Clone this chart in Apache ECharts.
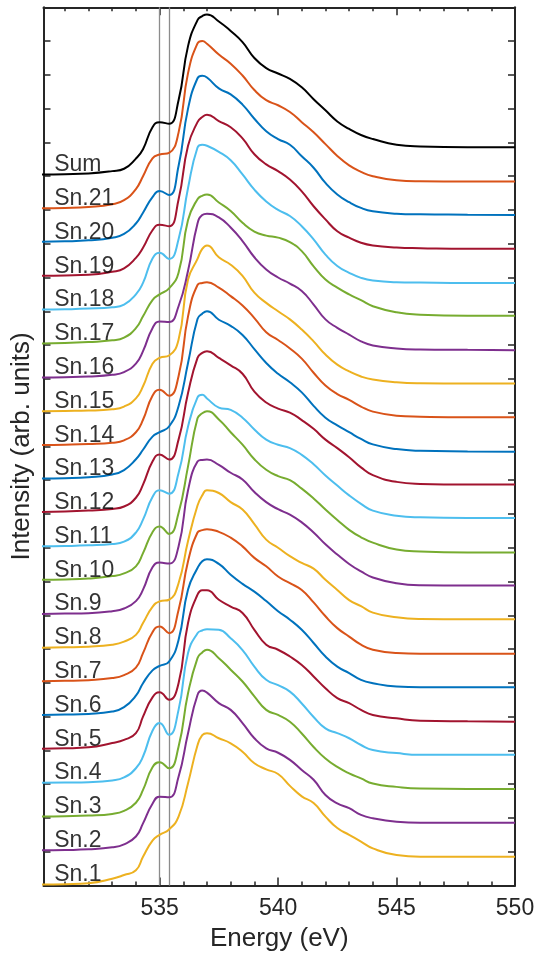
<!DOCTYPE html>
<html><head><meta charset="utf-8">
<script src="https://cdn.jsdelivr.net/npm/echarts@6/dist/echarts.min.js"></script>
<style>html,body{margin:0;padding:0;background:#fff}#c{width:537px;height:955px}</style>
</head><body><div id="c"></div>
<script>
// Energy grid (eV)
const energy = [530, 531, 532, 533, 533.5, 534, 534.3, 534.7, 535, 535.4,
  535.8, 536.2, 536.6, 536.8, 537, 537.5, 538, 538.5, 539, 539.5,
  540, 540.5, 541, 541.5, 542, 542.5, 543, 543.5, 544, 545,
  546, 548, 550];

// Normalised intensity of each spectrum (before vertical offset)
const sn1 = [0.03,0.04,0.07,0.20,0.31,0.45,0.85,1.33,1.50,1.66, 2.04,3.03,4.15,4.45,4.51,4.36,4.21,3.96,3.62,3.44, 3.30,2.95,2.64,2.44,2.04,1.70,1.50,1.30,1.10,0.90, 0.85,0.85,0.85];
const sn2 = [0.04,0.05,0.07,0.13,0.22,0.45,0.84,1.42,1.63,1.61, 2.22,3.51,4.64,4.77,4.71,4.40,4.20,3.81,3.36,3.06, 2.93,2.72,2.42,2.13,1.68,1.43,1.29,1.09,0.99,0.89, 0.86,0.86,0.86];
const sn3 = [0.04,0.05,0.07,0.12,0.21,0.45,0.83,1.50,1.65,1.47, 2.11,3.69,4.73,4.90,4.98,4.73,4.39,4.04,3.60,3.20, 3.05,2.85,2.50,2.10,1.76,1.51,1.32,1.17,1.02,0.92, 0.87,0.86,0.86];
const sn4 = [0.04,0.05,0.06,0.11,0.20,0.47,0.82,1.58,1.81,1.46, 2.20,3.88,4.47,4.55,4.59,4.57,4.32,3.97,3.48,3.09, 2.93,2.74,2.39,1.99,1.65,1.51,1.36,1.16,1.01,0.92, 0.87,0.87,0.87];
const sn5 = [0.05,0.06,0.09,0.22,0.31,0.51,1.00,1.57,1.72,1.50, 1.99,3.77,4.61,4.74,4.74,4.46,4.26,4.07,3.57,3.13, 2.98,2.78,2.53,2.19,1.84,1.55,1.40,1.20,1.05,0.95, 0.88,0.86,0.85];
const sn6 = [0.05,0.06,0.08,0.15,0.28,0.62,0.99,1.37,1.50,1.63, 2.27,3.76,4.40,4.60,4.66,4.52,4.20,3.93,3.70,3.42, 3.12,2.87,2.57,2.18,1.78,1.48,1.29,1.09,0.99,0.89, 0.87,0.87,0.87];
const sn7 = [0.05,0.06,0.08,0.14,0.23,0.45,0.88,1.50,1.67,1.47, 2.16,3.60,4.45,4.52,4.55,4.47,4.30,4.04,3.70,3.45, 3.15,2.95,2.75,2.38,1.97,1.62,1.37,1.13,0.98,0.88, 0.86,0.86,0.86];
const sn8 = [0.04,0.05,0.07,0.13,0.22,0.42,0.77,1.25,1.41,1.46, 1.95,3.20,4.25,4.55,4.70,4.62,4.35,4.13,3.70,3.24, 3.00,2.75,2.55,2.38,2.05,1.75,1.45,1.27,1.08,0.94, 0.89,0.88,0.88];
const sn9 = [0.04,0.05,0.06,0.12,0.20,0.42,0.76,1.42,1.56,1.53, 2.04,3.70,4.55,4.60,4.61,4.45,4.22,4.02,3.65,3.35, 3.14,2.98,2.75,2.45,2.10,1.80,1.52,1.30,1.12,0.95, 0.89,0.88,0.88];
const sn10 = [0.05,0.06,0.09,0.16,0.24,0.45,0.84,1.46,1.63,1.41, 2.03,3.41,4.83,4.98,5.04,4.80,4.42,4.05,3.62,3.31, 3.12,3.00,2.75,2.46,2.13,1.82,1.53,1.31,1.15,0.95, 0.89,0.86,0.86];
const sn11 = [0.04,0.05,0.07,0.11,0.18,0.45,0.83,1.50,1.70,1.60, 2.21,3.59,4.45,4.53,4.42,4.15,4.08,3.85,3.50,3.20, 3.05,2.95,2.75,2.47,2.14,1.84,1.55,1.30,1.10,0.95, 0.90,0.88,0.88];
const sn12 = [0.06,0.07,0.10,0.15,0.22,0.48,0.87,1.55,1.76,1.61, 2.20,3.58,4.62,4.77,4.82,4.62,4.40,4.15,3.62,3.30, 3.12,3.00,2.78,2.52,2.20,1.95,1.68,1.38,1.15,0.95, 0.89,0.87,0.87];
const sn13 = [0.05,0.06,0.09,0.17,0.30,0.62,0.90,1.29,1.42,1.59, 2.19,3.47,4.77,4.93,5.00,4.75,4.57,4.30,3.88,3.47, 3.15,2.90,2.60,2.20,1.85,1.62,1.42,1.22,1.06,0.92, 0.87,0.85,0.84];
const sn14 = [0.04,0.05,0.07,0.11,0.18,0.42,0.79,1.50,1.68,1.50, 2.08,3.85,4.78,4.84,4.86,4.70,4.45,4.17,3.80,3.38, 3.15,2.90,2.60,2.18,1.80,1.55,1.38,1.18,1.03,0.91, 0.88,0.86,0.86];
const sn15 = [0.04,0.05,0.06,0.10,0.18,0.42,0.78,1.45,1.62,1.69, 2.16,3.94,4.55,4.85,4.95,4.60,4.38,4.05,3.55,3.25, 3.00,2.76,2.46,2.11,1.72,1.42,1.22,1.07,0.98,0.90, 0.87,0.86,0.86];
const sn16 = [0.04,0.05,0.07,0.12,0.20,0.45,0.82,1.50,1.70,1.68, 2.15,3.20,4.60,4.85,4.89,4.78,4.48,4.08,3.60,3.24, 3.00,2.82,2.60,2.20,1.76,1.51,1.31,1.11,0.99,0.90, 0.87,0.86,0.85];
const sn17 = [0.05,0.06,0.09,0.14,0.22,0.50,0.85,1.33,1.50,1.68, 2.14,3.70,4.32,4.42,4.46,4.22,3.97,3.62,3.36,3.24, 3.18,3.05,2.78,2.33,1.94,1.70,1.50,1.33,1.15,0.97, 0.90,0.87,0.87];
const sn18 = [0.05,0.06,0.08,0.12,0.20,0.50,0.84,1.56,1.73,1.55, 2.13,3.65,4.85,4.93,4.90,4.72,4.47,4.05,3.60,3.25, 3.00,2.82,2.52,2.13,1.68,1.34,1.14,0.99,0.91,0.86, 0.85,0.84,0.84];
const sn19 = [0.05,0.06,0.08,0.17,0.27,0.58,0.88,1.40,1.56,1.52, 2.31,3.90,4.60,4.75,4.82,4.63,4.45,4.12,3.65,3.35, 3.15,2.90,2.55,2.11,1.72,1.37,1.18,1.03,0.95,0.89, 0.87,0.85,0.85];
const sn20 = [0.06,0.07,0.10,0.18,0.29,0.60,0.92,1.38,1.56,1.44, 2.30,4.00,4.90,4.97,4.92,4.60,4.42,4.12,3.70,3.33, 3.10,2.93,2.59,2.25,1.80,1.46,1.23,1.06,0.96,0.89, 0.87,0.86,0.85];
const sn21 = [0.05,0.06,0.09,0.17,0.29,0.62,1.00,1.53,1.64,1.69, 2.29,4.05,4.93,5.00,4.92,4.60,4.33,3.98,3.55,3.25, 3.10,2.90,2.60,2.30,1.95,1.60,1.32,1.13,1.00,0.88, 0.85,0.84,0.84];
const sumSpec = [0.05,0.06,0.08,0.15,0.22,0.52,0.80,1.45,1.60,1.55, 2.25,3.85,4.62,4.74,4.79,4.58,4.30,3.97,3.50,3.20, 3.04,2.88,2.63,2.28,1.95,1.62,1.40,1.22,1.10,0.93, 0.88,0.86,0.86];

const spectrumNames = ['Sn.1','Sn.2','Sn.3','Sn.4','Sn.5','Sn.6','Sn.7','Sn.8','Sn.9','Sn.10',
  'Sn.11','Sn.12','Sn.13','Sn.14','Sn.15','Sn.16','Sn.17','Sn.18','Sn.19','Sn.20','Sn.21','Sum'];
const offsets = [0,1,2,3,4,5,6,7,8,9,10,11,12,13,14,15,16,17,18,19,20,21];
const refLines = [535.0, 535.4];
const xTickLabels = [535, 540, 545, 550];

const spectra = [sn1,sn2,sn3,sn4,sn5,sn6,sn7,sn8,sn9,sn10,sn11,sn12,sn13,sn14,sn15,sn16,sn17,sn18,sn19,sn20,sn21,sumSpec];

const palette = ['#0072BD','#D95319','#EDB120','#7E2F8E','#77AC30','#4DBEEE','#A2142F'];
const colorOf = i => (spectrumNames[i] === 'Sum') ? '#000000' : palette[(i + 2) % 7];
const axisCol = '#262626';
const FONT = "'Liberation Sans', Arial, Helvetica, sans-serif";
const labelX = 530.55, labelDy = 0.33;

const series = [];
spectra.forEach((s, i) => {
  const ser = {
    type: 'line', name: spectrumNames[i],
    data: energy.map((e, j) => [e, s[j] + offsets[i]]),
    showSymbol: false, symbol: 'none', smooth: 0.5,
    lineStyle: { color: colorOf(i), width: 2 },
    itemStyle: { color: colorOf(i) },
    silent: true, z: 3
  };
  if (i === 0) {
    ser.markLine = {
      silent: true, symbol: 'none', label: { show: false },
      lineStyle: { color: '#8c8c8c', width: 1.3, type: 'solid' },
      data: refLines.map(v => ({ xAxis: v })),
      z: 1
    };
  }
  series.push(ser);
});
series.push({
  type: 'scatter', symbolSize: 0, silent: true, z: 5,
  data: spectrumNames.map((n, i) => ({ name: n, value: [labelX, offsets[i] + labelDy] })),
  label: { show: true, position: 'right', distance: 0, formatter: '{b}', fontSize: 23, color: '#000', fontFamily: FONT }
});

const xCommon = {
  type: 'value', min: 530.1, max: 550, splitNumber: 4, minInterval: 5, maxInterval: 5,
  axisLine: { show: true, onZero: false, lineStyle: { color: axisCol, width: 2 } },
  axisTick: { show: true, inside: true, length: 8, lineStyle: { color: axisCol, width: 1.5 } },
  minorTick: { show: true, splitNumber: 5, length: 4, lineStyle: { color: axisCol, width: 1.5 } },
  splitLine: { show: false }, minorSplitLine: { show: false }
};
const yCommon = {
  type: 'value', min: 0, max: 26, interval: 1,
  axisLine: { show: true, onZero: false, lineStyle: { color: axisCol, width: 2 } },
  axisTick: { show: true, inside: true, length: 7, lineStyle: { color: axisCol, width: 1.5 } },
  axisLabel: { show: false }, splitLine: { show: false }
};

const option = {
  animation: false,
  backgroundColor: '#ffffff',
  textStyle: { fontFamily: FONT },
  grid: { left: 43.5, right: 22, top: 7.3, bottom: 69.5, containLabel: false, outerBoundsMode: 'none' },
  xAxis: [
    Object.assign({}, xCommon, {
      position: 'bottom',
      axisLabel: { fontSize: 23, color: axisCol, margin: 12, fontFamily: FONT,
        formatter: v => xTickLabels.some(t => Math.abs(t - v) < 1e-6) ? String(Math.round(v)) : '' },
      name: 'Energy (eV)', nameLocation: 'middle', nameGap: 40,
      nameTextStyle: { fontSize: 26, color: axisCol, fontFamily: FONT }
    }),
    Object.assign({}, xCommon, { position: 'top', axisLabel: { show: false } })
  ],
  yAxis: [
    Object.assign({}, yCommon, {
      position: 'left',
      name: 'Intensity (arb. units)', nameLocation: 'middle', nameGap: 9,
      nameTextStyle: { fontSize: 26, color: axisCol, fontFamily: FONT }
    }),
    Object.assign({}, yCommon, { position: 'right' })
  ],
  series: series
};

const chart = echarts.init(document.getElementById('c'), null, { renderer: 'canvas' });
chart.setOption(option);
</script>
</body></html>
